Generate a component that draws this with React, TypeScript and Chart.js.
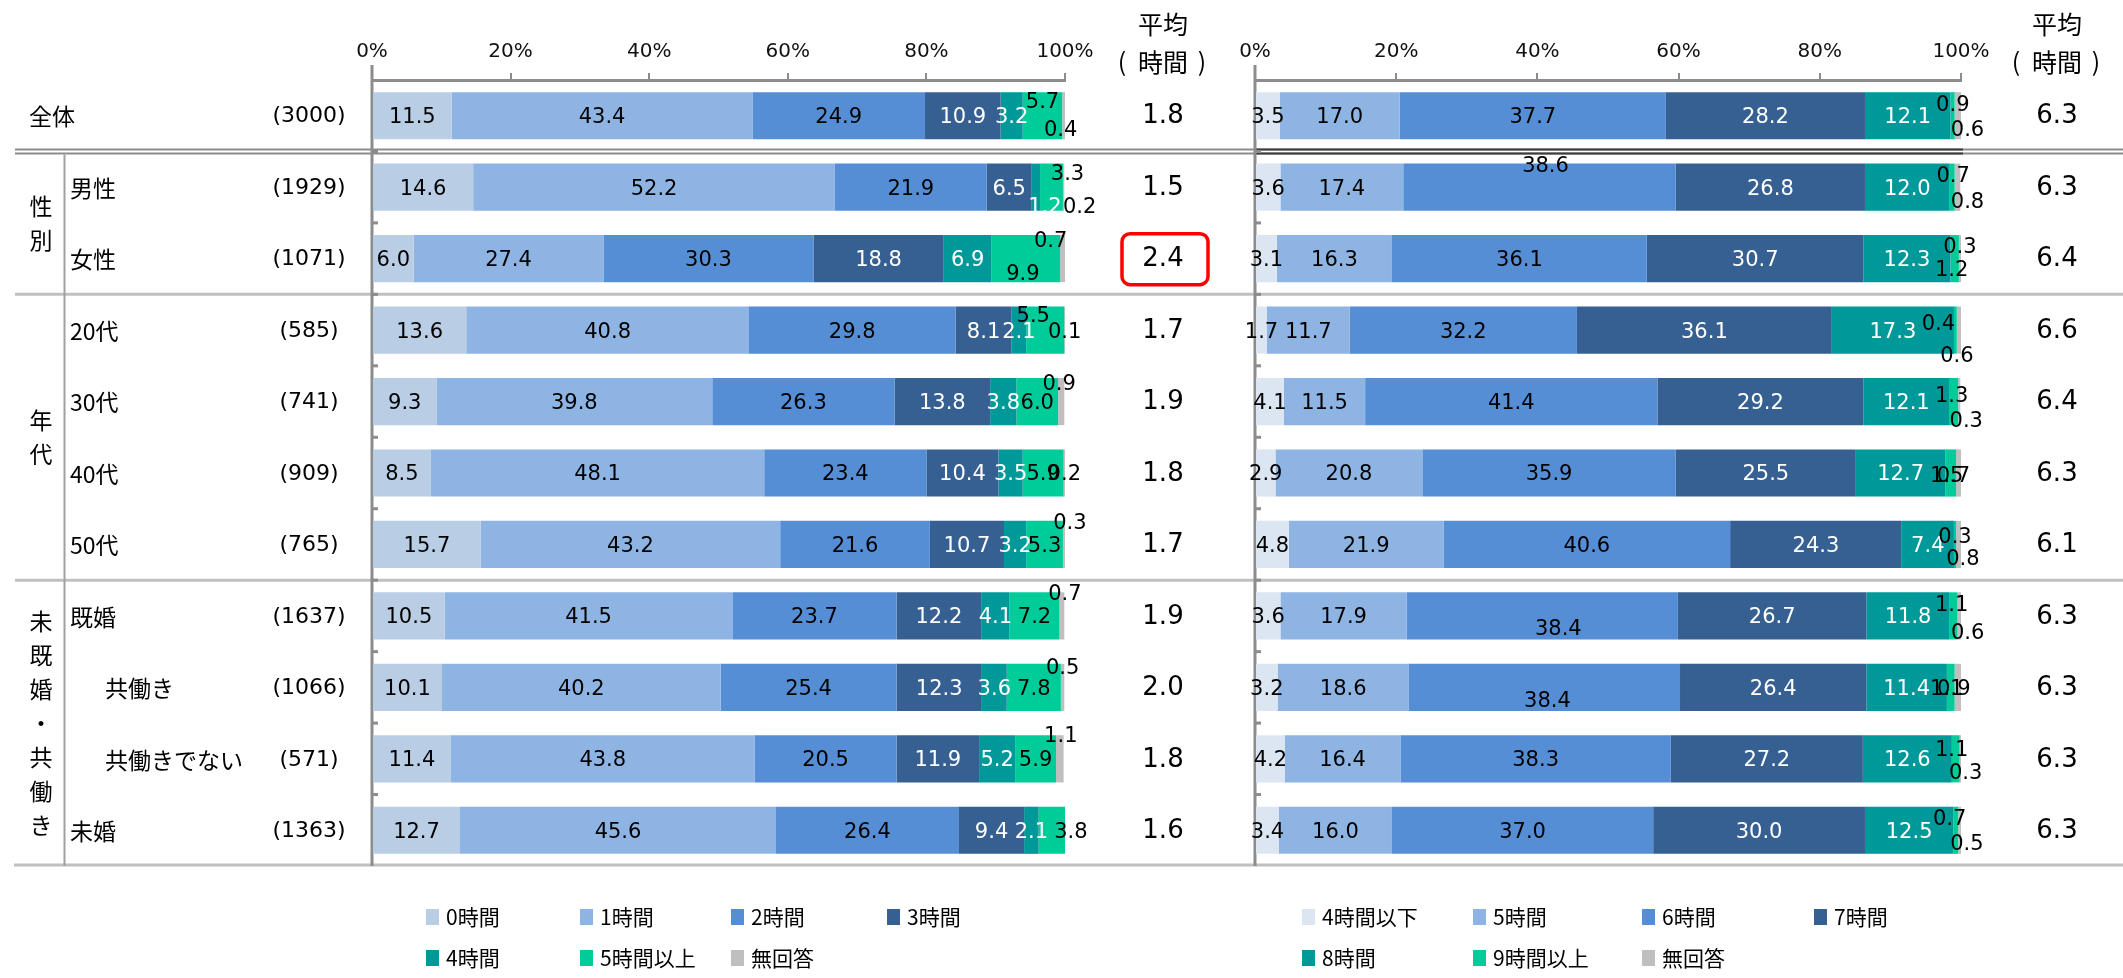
import React, { useEffect, useRef } from 'react';
import { Chart, registerables } from 'chart.js';

Chart.register(...registerables);

// ---------------- data ----------------
const rowLabels = ['全体', '男性', '女性', '20代', '30代', '40代', '50代', '既婚', '共働き', '共働きでない', '未婚'];
const sampleSizes = ['(3000)', '(1929)', '(1071)', '(585)', '(741)', '(909)', '(765)', '(1637)', '(1066)', '(571)', '(1363)'];
const groupLabels = ['性別', '年代', '未既婚・共働き'];
const groupFirstRow = [1, 3, 7];
const groupLastRow = [2, 6, 10];

const leftSeriesNames = ['0時間', '1時間', '2時間', '3時間', '4時間', '5時間以上', '無回答'];
const rightSeriesNames = ['4時間以下', '5時間', '6時間', '7時間', '8時間', '9時間以上', '無回答'];

const left0h = [11.5, 14.6, 6.0, 13.6, 9.3, 8.5, 15.7, 10.5, 10.1, 11.4, 12.7];
const left1h = [43.4, 52.2, 27.4, 40.8, 39.8, 48.1, 43.2, 41.5, 40.2, 43.8, 45.6];
const left2h = [24.9, 21.9, 30.3, 29.8, 26.3, 23.4, 21.6, 23.7, 25.4, 20.5, 26.4];
const left3h = [10.9, 6.5, 18.8, 8.1, 13.8, 10.4, 10.7, 12.2, 12.3, 11.9, 9.4];
const left4h = [3.2, 1.2, 6.9, 2.1, 3.8, 3.5, 3.2, 4.1, 3.6, 5.2, 2.1];
const left5hPlus = [5.7, 3.3, 9.9, 5.5, 6.0, 5.9, 5.3, 7.2, 7.8, 5.9, 3.8];
const leftNoAnswer = [0.4, 0.2, 0.7, 0.1, 0.9, 0.2, 0.3, 0.7, 0.5, 1.1, 0.0];
const leftAverage = ['1.8', '1.5', '2.4', '1.7', '1.9', '1.8', '1.7', '1.9', '2.0', '1.8', '1.6'];

const right4hOrLess = [3.5, 3.6, 3.1, 1.7, 4.1, 2.9, 4.8, 3.6, 3.2, 4.2, 3.4];
const right5h = [17.0, 17.4, 16.3, 11.7, 11.5, 20.8, 21.9, 17.9, 18.6, 16.4, 16.0];
const right6h = [37.7, 38.6, 36.1, 32.2, 41.4, 35.9, 40.6, 38.4, 38.4, 38.3, 37.0];
const right7h = [28.2, 26.8, 30.7, 36.1, 29.2, 25.5, 24.3, 26.7, 26.4, 27.2, 30.0];
const right8h = [12.1, 12.0, 12.3, 17.3, 12.1, 12.7, 7.4, 11.8, 11.4, 12.6, 12.5];
const right9hPlus = [0.6, 0.7, 1.2, 0.4, 1.3, 1.5, 0.3, 1.1, 1.1, 1.1, 0.7];
const rightNoAnswer = [0.9, 0.8, 0.3, 0.6, 0.3, 0.7, 0.8, 0.6, 0.9, 0.3, 0.5];
const rightAverage = ['6.3', '6.3', '6.4', '6.6', '6.4', '6.3', '6.1', '6.3', '6.3', '6.3', '6.3'];

const xTicks = [0, 20, 40, 60, 80, 100];
const highlightedAverageRow = 2;

// ---------------- styles ----------------
const W = 2123;
const H = 978;
const PLOT_TOP = 80;
const PLOT_BOTTOM = 866;
const LEFT_AREA = { left: 372, right: 1065 };
const RIGHT_AREA = { left: 1255, right: 1961 };

const leftColors = ['#B9CDE5', '#8EB4E3', '#558ED5', '#376092', '#009999', '#00CC99', '#BFBFBF'];
const rightColors = ['#DCE6F2', '#8EB4E3', '#558ED5', '#376092', '#009999', '#00CC99', '#BFBFBF'];
const labelColors = ['#000', '#000', '#000', '#fff', '#fff', '#000', '#000'];

const NUM_FONT = "'DejaVu Sans', 'Liberation Sans', sans-serif";
const JP_FONT = "'Noto Sans CJK JP', 'Noto Sans', sans-serif";

// manual nudges of crowded value labels: key `${row}-${series}` -> [dx, dy]
const leftNudges: Record<string, [number, number]> = {
  '0-5': [0, -15], '0-6': [-3, 13],
  '1-4': [9, 18], '1-5': [16, -15], '1-6': [16, 18],
  '2-5': [-3, 14], '2-6': [-12, -19],
  '3-5': [-12, -16],
  '4-6': [-2, -19],
  '6-6': [6, -23],
  '7-6': [3, -23],
  '8-6': [0, -21],
  '9-6': [1, -24],
  '10-5': [19, 0],
};
const rightNudges: Record<string, [number, number]> = {
  '0-5': [15, 13], '0-6': [-5, -12],
  '1-2': [6, -23], '1-5': [1, -13], '1-6': [10, 13],
  '2-5': [-3, 10], '2-6': [0, -13],
  '3-5': [-17, -8], '3-6': [-2, 24],
  '4-5': [-2, -7], '4-6': [7, 18],
  '5-5': [-4, 2], '5-6': [-5, 2],
  '6-5': [0, -9], '6-6': [4, 13],
  '7-2': [16, 12], '7-5': [-2, -12], '7-6': [8, 16],
  '8-2': [3, 12], '8-5': [-4, 0], '8-6': [-4, 0],
  '9-5': [-4, -10], '9-6': [5, 13],
  '10-5': [-6, -13], '10-6': [7, 12],
};

type PanelCfg = {
  side: 'L' | 'R';
  nudges: Record<string, [number, number]>;
  averages: string[];
  avgX: number;
  legendNames: string[];
  legendColors: string[];
  legendCols: number[];
};

function line(ctx: CanvasRenderingContext2D, x1: number, y1: number, x2: number, y2: number, color: string, w: number) {
  ctx.save();
  ctx.strokeStyle = color;
  ctx.lineWidth = w;
  ctx.beginPath();
  ctx.moveTo(x1, y1);
  ctx.lineTo(x2, y2);
  ctx.stroke();
  ctx.restore();
}

function makeDecor(cfg: PanelCfg) {
  return {
    id: 'decor' + cfg.side,
    beforeDatasetsDraw(chart: any) {
      const ctx: CanvasRenderingContext2D = chart.ctx;
      const ys = chart.scales.y;
      const area = chart.chartArea;
      const n = rowLabels.length;
      const center = (i: number) => ys.getPixelForValue(i);
      const boundary = (i: number) => (i >= n - 1 ? area.bottom : (center(i) + center(i + 1)) / 2);

      if (cfg.side === 'L') {
        // full-width separators
        const b0 = boundary(0);
        line(ctx, 15, b0 - 2, W, b0 - 2, '#8c8c8c', 2);
        line(ctx, 15, b0 + 2, W, b0 + 2, '#8c8c8c', 2);
        [2, 6].forEach((i) => line(ctx, 15, boundary(i), W, boundary(i), '#c0c0c0', 3));
        line(ctx, 14, area.bottom - 1, W, area.bottom - 1, '#c0c0c0', 3);
        // vertical divider for group labels
        line(ctx, 64.5, b0 + 3, 64.5, area.bottom, '#a0a0a0', 2);

        // row labels and sample sizes
        ctx.save();
        ctx.textBaseline = 'middle';
        rowLabels.forEach((lab, i) => {
          const cy = center(i) + 1;
          const x = i === 0 ? 29 : (i === 8 || i === 9) ? 105 : 70;
          ctx.font = `23px ${JP_FONT}`;
          ctx.fillStyle = '#000';
          ctx.textAlign = 'left';
          ctx.fillText(lab, x, cy);
          ctx.font = `22px ${NUM_FONT}`;
          ctx.textAlign = 'center';
          ctx.fillText(sampleSizes[i], 309, cy);
        });
        // vertical group labels
        ctx.font = `23px ${JP_FONT}`;
        ctx.textAlign = 'center';
        groupLabels.forEach((g, gi) => {
          const top = boundary(groupFirstRow[gi] - 1);
          const bot = boundary(groupLastRow[gi]);
          const mid = (top + bot) / 2;
          const chars = Array.from(g);
          const step = 34;
          chars.forEach((c, k) => {
            ctx.fillText(c, 41, mid + (k - (chars.length - 1) / 2) * step);
          });
        });
        ctx.restore();
      } else {
        const b0 = boundary(0);
        line(ctx, area.left, b0 - 2, area.right + 2, b0 - 2, '#3c3c3c', 2);
        line(ctx, area.left, b0 + 2, area.right + 2, b0 + 2, '#3c3c3c', 2);
      }

      // y axis line and small inner ticks
      line(ctx, area.left, 65, area.left, area.bottom, '#8c8c8c', 3);
      for (let i = 0; i < n - 1; i++) {
        const b = boundary(i);
        line(ctx, area.left, b, area.left + 6, b, '#8c8c8c', 3);
      }

      // header and averages
      ctx.save();
      ctx.fillStyle = '#000';
      ctx.textAlign = 'center';
      ctx.textBaseline = 'middle';
      ctx.font = `25px ${JP_FONT}`;
      ctx.fillText('平均', cfg.avgX, 24);
      ctx.fillText('時間', cfg.avgX, 62);
      ctx.fillText('(', cfg.avgX - 41, 61);
      ctx.fillText(')', cfg.avgX + 39, 61);
      ctx.font = `26px ${NUM_FONT}`;
      cfg.averages.forEach((a, i) => ctx.fillText(a, cfg.avgX, center(i) + 1));
      ctx.restore();

      // legend
      ctx.save();
      ctx.textBaseline = 'middle';
      ctx.textAlign = 'left';
      ctx.font = `21px ${JP_FONT}`;
      cfg.legendNames.forEach((name, i) => {
        const col = i % 4;
        const row = Math.floor(i / 4);
        const bx = cfg.legendCols[col];
        const cy = row === 0 ? 917 : 958;
        ctx.fillStyle = cfg.legendColors[i];
        ctx.fillRect(bx, cy - 8, 13, 16);
        ctx.fillStyle = '#000';
        ctx.fillText(name, bx + 20, cy);
      });
      ctx.restore();
    },
    afterDatasetsDraw(chart: any) {
      const ctx: CanvasRenderingContext2D = chart.ctx;
      ctx.save();
      ctx.font = `21px ${NUM_FONT}`;
      ctx.textAlign = 'center';
      ctx.textBaseline = 'middle';
      chart.data.datasets.forEach((ds: any, di: number) => {
        const meta = chart.getDatasetMeta(di);
        meta.data.forEach((el: any, ri: number) => {
          const v = ds.data[ri] as number;
          if (!v) return;
          const p = el.getProps(['x', 'y', 'base'], true);
          const nd = cfg.nudges[`${ri}-${di}`] || [0, 0];
          ctx.fillStyle = labelColors[di];
          ctx.fillText(v.toFixed(1), (p.x + p.base) / 2 + nd[0], p.y + 2 + nd[1]);
        });
      });
      ctx.restore();

      if (cfg.side === 'L') {
        const cy = chart.scales.y.getPixelForValue(highlightedAverageRow);
        const x = cfg.avgX - 41, y = cy - 25, w = 86, h = 51, r = 8;
        ctx.save();
        ctx.strokeStyle = '#FF0000';
        ctx.lineWidth = 3.5;
        ctx.beginPath();
        ctx.moveTo(x + r, y);
        ctx.lineTo(x + w - r, y);
        ctx.arcTo(x + w, y, x + w, y + r, r);
        ctx.lineTo(x + w, y + h - r);
        ctx.arcTo(x + w, y + h, x + w - r, y + h, r);
        ctx.lineTo(x + r, y + h);
        ctx.arcTo(x, y + h, x, y + h - r, r);
        ctx.lineTo(x, y + r);
        ctx.arcTo(x, y, x + r, y, r);
        ctx.closePath();
        ctx.stroke();
        ctx.restore();
      }
    },
  };
}

function buildChart(canvas: HTMLCanvasElement, series: number[][], names: string[], colors: string[], area: { left: number; right: number }, cfg: PanelCfg) {
  return new Chart(canvas, {
    type: 'bar',
    data: {
      labels: rowLabels,
      datasets: series.map((d, i) => ({
        label: names[i],
        data: d,
        backgroundColor: colors[i],
        borderWidth: 0,
        barPercentage: 0.66,
        categoryPercentage: 1,
      })),
    },
    options: {
      indexAxis: 'y',
      responsive: false,
      animation: false,
      devicePixelRatio: 1,
      layout: { padding: { left: area.left, right: W - area.right, top: 0, bottom: H - PLOT_BOTTOM } },
      scales: {
        x: {
          type: 'linear',
          position: 'top',
          stacked: true,
          min: 0,
          max: 100,
          afterFit: (s: any) => { s.height = PLOT_TOP; },
          afterBuildTicks: (s: any) => { s.ticks = xTicks.map((v) => ({ value: v })); },
          ticks: {
            callback: (v: any) => v + '%',
            font: { family: NUM_FONT, size: 20 },
            color: '#111',
            padding: 9,
            maxRotation: 0,
          },
          grid: { display: true, drawOnChartArea: false, drawTicks: true, tickLength: 7, color: '#8c8c8c', lineWidth: 2 },
          border: { display: true, color: '#8c8c8c', width: 3 },
        },
        y: { type: 'category', stacked: true, display: false },
      },
      plugins: { legend: { display: false }, tooltip: { enabled: false } },
    } as any,
    plugins: [makeDecor(cfg) as any],
  });
}

export default function App() {
  const leftRef = useRef<HTMLCanvasElement | null>(null);
  const rightRef = useRef<HTMLCanvasElement | null>(null);

  useEffect(() => {
    const left = buildChart(
      leftRef.current!,
      [left0h, left1h, left2h, left3h, left4h, left5hPlus, leftNoAnswer],
      leftSeriesNames,
      leftColors,
      LEFT_AREA,
      {
        side: 'L',
        nudges: leftNudges,
        averages: leftAverage,
        avgX: 1163,
        legendNames: leftSeriesNames,
        legendColors: leftColors,
        legendCols: [426, 580, 731, 887],
      }
    );
    const right = buildChart(
      rightRef.current!,
      [right4hOrLess, right5h, right6h, right7h, right8h, right9hPlus, rightNoAnswer],
      rightSeriesNames,
      rightColors,
      RIGHT_AREA,
      {
        side: 'R',
        nudges: rightNudges,
        averages: rightAverage,
        avgX: 2057,
        legendNames: rightSeriesNames,
        legendColors: rightColors,
        legendCols: [1302, 1473, 1642, 1814],
      }
    );
    return () => {
      left.destroy();
      right.destroy();
    };
  }, []);

  const cstyle: React.CSSProperties = { position: 'absolute', left: 0, top: 0, width: W, height: H };
  return (
    <div style={{ position: 'absolute', left: 0, top: 0, width: W, height: H, background: '#fff', overflow: 'hidden' }}>
      <canvas ref={leftRef} width={W} height={H} style={cstyle} />
      <canvas ref={rightRef} width={W} height={H} style={cstyle} />
    </div>
  );
}
